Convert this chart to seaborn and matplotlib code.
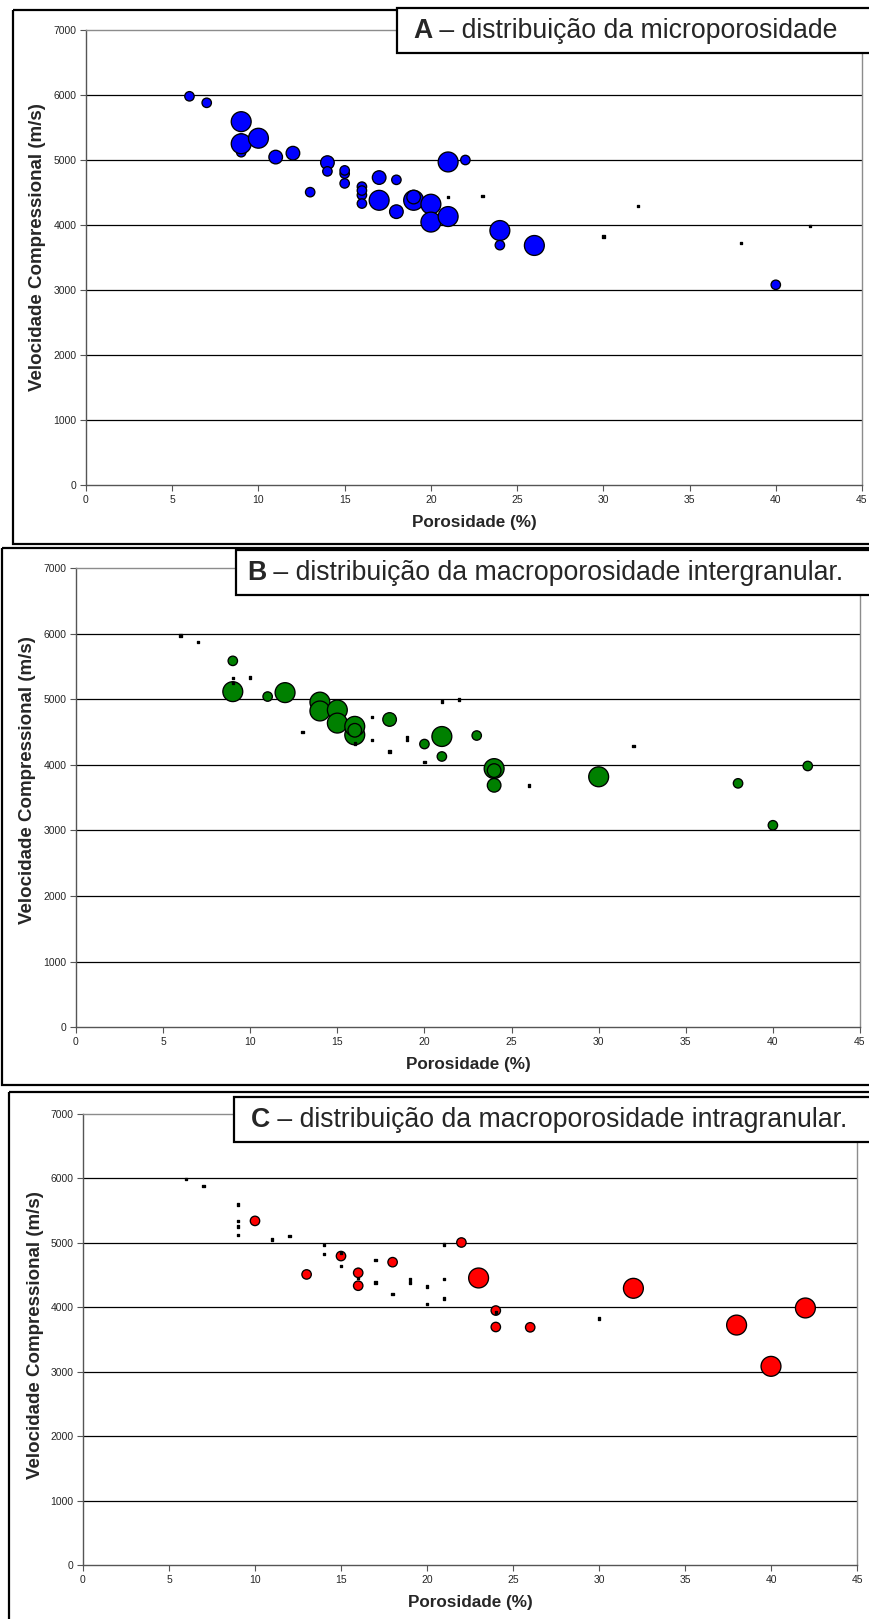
import numpy as np
import pandas as pd
import seaborn as sns
import matplotlib.pyplot as plt
from matplotlib.patches import Rectangle

sns.set_style("white")
plt.rcParams['font.family'] = ['Liberation Sans', 'DejaVu Sans']

# porosity (%) and compressional velocity (m/s), same samples in the three panels
porosidade = [6, 7, 9, 9, 9, 9, 10, 11, 12, 13, 14, 14, 15, 15, 15,
              16, 16, 16, 16, 17, 17, 18, 18, 19, 19, 20, 20, 21, 21, 21,
              22, 23, 24, 24, 24, 26, 30, 32, 38, 40, 42]
velocidade = [5980, 5880, 5120, 5330, 5250, 5590, 5335, 5045, 5105, 4505, 4960, 4825, 4790, 4840, 4640,
              4460, 4590, 4530, 4330, 4730, 4380, 4695, 4205, 4380, 4430, 4320, 4045, 4970, 4435, 4130,
              5000, 4450, 3945, 3915, 3690, 3685, 3820, 4290, 3720, 3080, 3985]

# bubble values (relative amount of each porosity type), 0 = no bubble
micro = [1, 1, 1, 1, 4, 4, 4, 2, 2, 1, 2, 1, 1, 1, 1,
         1, 1, 1, 1, 2, 4, 1, 2, 4, 2, 4, 4, 4, 0, 4,
         1, 0, 1, 4, 1, 4, 0, 0, 0, 1, 0]
inter = [0, 0, 4, 0, 0, 1, 0, 1, 4, 0, 4, 4, 1, 4, 4,
         4, 4, 2, 0, 0, 0, 2, 0, 0, 0, 1, 0, 0, 4, 1,
         0, 1, 4, 2, 2, 0, 4, 0, 1, 1, 1]
intra = [0, 0, 0, 0, 0, 0, 1, 0, 0, 1, 0, 0, 1, 0, 0,
         0, 0, 1, 1, 0, 0, 1, 0, 0, 0, 0, 0, 0, 0, 0,
         1, 4, 1, 0, 1, 1, 0, 4, 4, 4, 4]

letras = ['A', 'B', 'C']
titulos = [' – distribuição da microporosidade',
           ' – distribuição da macroporosidade intergranular.',
           ' – distribuição da macroporosidade intragranular.']
cores = ['#0000FF', '#008000', '#FF0000']

W, H = 870, 1619
fig = plt.figure(figsize=(W / 100, H / 100), dpi=100)

# layout in pixels: plot area, outer frame, title box, title text anchor, label positions
plot_boxes = [(86, 30, 862, 485), (76, 568.5, 860, 1027), (83, 1113.5, 857, 1565)]
frames = [(13, 10, 880, 544), (2, 548, 880, 1085), (9, 1092, 880, 1630)]
title_boxes = [(397, 8, 880, 53), (236, 550, 880, 595), (234, 1097, 880, 1142)]
title_pos = [(413, 31), (247, 573), (251, 1120)]
ylabel_xy = [(38, 247), (28, 780), (36, 1335)]

size_map = {0: 3, 1: 46, 2: 96, 3: 145, 4: 205}

for i, vals in enumerate([micro, inter, intra]):
    l, t, r, b = plot_boxes[i]
    ax = fig.add_axes([l / W, 1 - b / H, (r - l) / W, (b - t) / H])
    df = pd.DataFrame({'por': porosidade, 'vel': velocidade, 'val': vals})
    df['kind'] = np.where(df['val'] == 0, 'ponto', 'bolha')
    sns.scatterplot(data=df, x='por', y='vel', hue='kind', style='kind', size='val',
                    sizes=size_map, palette={'ponto': 'black', 'bolha': cores[i]},
                    markers={'ponto': 's', 'bolha': 'o'}, edgecolor='black',
                    linewidth=0.95, legend=False, ax=ax, zorder=3)
    ax.set_xlim(0, 45)
    ax.set_ylim(0, 7000)
    ax.set_xticks(range(0, 46, 5))
    ax.set_yticks(range(0, 7001, 1000))
    ax.yaxis.grid(True, color='black', lw=0.9)
    ax.set_axisbelow(True)
    ax.get_ygridlines()[-1].set_visible(False)
    ax.get_ygridlines()[0].set_visible(False)
    for s in ['top', 'right']:
        ax.spines[s].set_color('#8c8c8c')
        ax.spines[s].set_linewidth(1)
    for s in ['left', 'bottom']:
        ax.spines[s].set_color('#555555')
        ax.spines[s].set_linewidth(1)
    ax.tick_params(direction='out', length=4, width=0.8, color='#555555',
                   labelsize=7.5, pad=3, bottom=True, left=True)
    ax.set_xlabel('Porosidade (%)', fontweight='bold', fontsize=12.3)
    ax.set_ylabel('Velocidade Compressional (m/s)', fontweight='bold', fontsize=13.5)
    ax.xaxis.set_label_coords(0.5, -37 / (b - t))
    ax.xaxis.label.set_va('center')
    yx, yy = ylabel_xy[i]
    ax.yaxis.set_label_coords((yx - l) / (r - l), (b - yy) / (b - t))
    ax.yaxis.label.set_va('center')

# overlay in pixel coordinates for frames and title boxes
ov = fig.add_axes([0, 0, 1, 1], zorder=10)
ov.set_xlim(0, W)
ov.set_ylim(H, 0)
ov.axis('off')
ov.patch.set_alpha(0)

for (x0, y0, x1, y1) in frames:
    ov.add_patch(Rectangle((x0, y0), x1 - x0, y1 - y0, fill=False, ec='black', lw=1.6, clip_on=False))

fig.canvas.draw()
renderer = fig.canvas.get_renderer()
for i in range(3):
    x0, y0, x1, y1 = title_boxes[i]
    ov.add_patch(Rectangle((x0, y0), x1 - x0, y1 - y0, fc='white', ec='black', lw=1.6, clip_on=False))
    tx, ty = title_pos[i]
    t1 = ov.text(tx, ty, letras[i], fontsize=19.2, fontweight='bold', va='center', ha='left')
    w = t1.get_window_extent(renderer).width
    ov.text(tx + w, ty, titulos[i], fontsize=19.2, va='center', ha='left')

fig.savefig('out.png', dpi=100)
